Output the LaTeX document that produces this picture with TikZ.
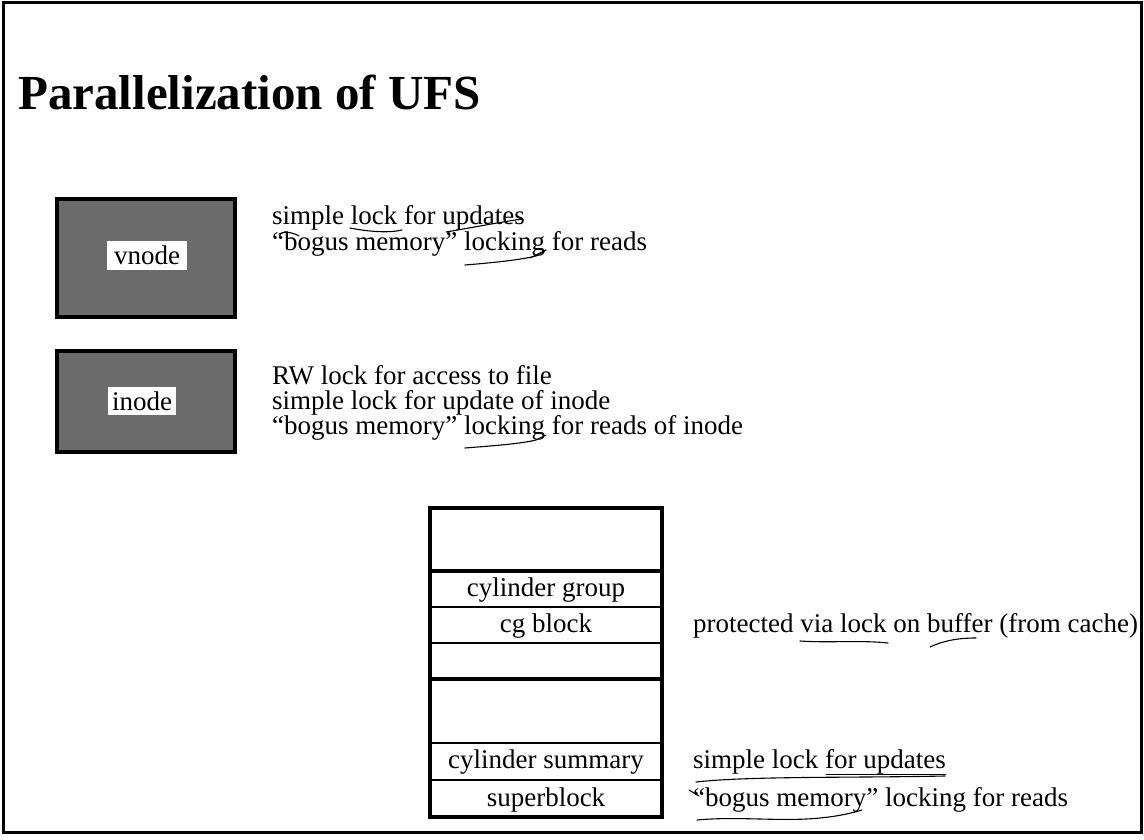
\documentclass[tikz,border=0pt]{standalone}
\usepackage{fontspec}
\setmainfont{Liberation Serif}
\begin{document}
\begin{tikzpicture}[x=1pt,y=-1pt,
  frame/.style={draw=black, line width=3pt},
  shadebox/.style={draw=black, line width=4pt, fill=black!58, inner sep=0pt},
  labelbox/.style={fill=white, inner sep=0pt, font=\fontsize{27}{24}\selectfont},
  body/.style={font=\fontsize{27}{24}\selectfont, inner sep=0pt, anchor=base west},
  cell/.style={font=\fontsize{27}{24}\selectfont, inner sep=0pt, anchor=base},
  stackbox/.style={draw=black, line width=3.5pt, inner sep=0pt},
  thinrule/.style={draw=black, line width=1.1pt},
  thickrule/.style={draw=black, line width=3.5pt},
  pen/.style={draw=black, line width=1.1pt, line cap=round}]
\useasboundingbox (0,0) rectangle (1144,840);
% outer frame
\draw[frame] (3,3) rectangle (1141,832);
% title
\node[anchor=base west, inner sep=0pt, font=\fontsize{49}{50}\selectfont\bfseries] (title) at (18,110) {Parallelization of UFS};
% vnode
\node[shadebox, minimum width=178pt, minimum height=118pt] (vnode) at (146,258) {};
\node[labelbox, minimum width=80pt, minimum height=29pt] (vlabel) at (147,255.5) {vnode};
\node[body] (v1) at (272,225) {simple lock for updates};
\node[body] (v2) at (272,250) {“bogus memory” locking for reads};
% inode
\node[shadebox, minimum width=178pt, minimum height=101pt] (inode) at (146,401.5) {};
\node[labelbox, minimum width=68pt, minimum height=28pt] (ilabel) at (142,401) {inode};
\node[body] (i1) at (272,384) {RW lock for access to file};
\node[body] (i2) at (272,409) {simple lock for update of inode};
\node[body] (i3) at (272,434) {“bogus memory” locking for reads of inode};
% stack
\node[stackbox, minimum width=232pt, minimum height=309pt] (stack) at (546,662.5) {};
\draw[thickrule] (stack.west |- 0,571) -- (stack.east |- 0,571);
\draw[thinrule] (stack.west |- 0,607) -- (stack.east |- 0,607);
\draw[thinrule] (stack.west |- 0,643) -- (stack.east |- 0,643);
\draw[thickrule] (stack.west |- 0,679) -- (stack.east |- 0,679);
\draw[thinrule] (stack.west |- 0,743) -- (stack.east |- 0,743);
\draw[thinrule] (stack.west |- 0,780) -- (stack.east |- 0,780);
\node[cell] (cg) at (546,596) {cylinder group};
\node[cell] (cgb) at (546,632) {cg block};
\node[cell] (cs) at (546,768) {cylinder summary};
\node[cell] (sb) at (546,806) {superblock};
\node[body] (p1) at (693,632) {protected via lock on buffer (from cache)};
\node[body] (s1) at (693,768) {simple lock for updates};
\node[body] (s2) at (693,806) {“bogus memory” locking for reads};
% hand-drawn pen marks
\draw[pen] (350,228) .. controls (370,232) and (390,233) .. (402,230);
\draw[pen] (446,232) .. controls (470,228) and (495,223) .. (522,219);
\draw[pen] (279,234) .. controls (285,231) and (292,232) .. (299,236);
\draw[pen] (465,265) .. controls (490,263) and (520,260) .. (536,256) -- (546,250);
\draw[pen] (530,258) -- (546,250);
\draw[pen] (465,448) .. controls (490,446) and (520,444) .. (536,440) -- (546,435);
\draw[pen] (800,641) .. controls (830,643) and (860,640) .. (888,643);
\draw[pen] (930,647) .. controls (945,640) and (960,638) .. (976,638);
\draw[pen, line width=0.8pt] (826,774) -- (946,774);
\draw[pen] (696,782) .. controls (750,776) and (850,778) .. (945,776);
\draw[pen] (689,790) -- (699,796);
\draw[pen] (697,820) .. controls (740,816) and (780,822) .. (820,818) .. controls (840,816) and (852,813) .. (862,810);
\end{tikzpicture}
\end{document}
